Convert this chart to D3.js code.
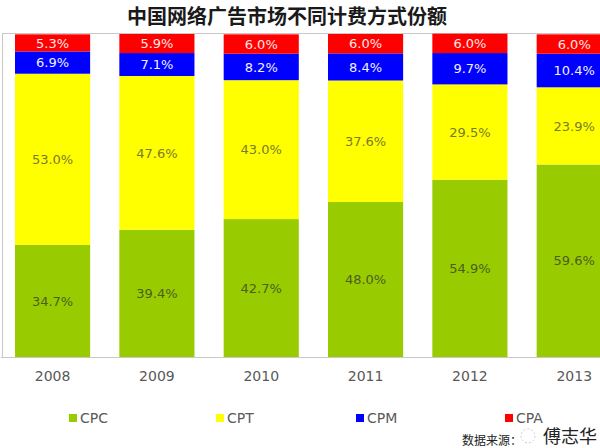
<!DOCTYPE html>
<html><head><meta charset="utf-8">
<script src="https://cdn.jsdelivr.net/npm/d3@7"></script>
<style>body{margin:0;background:#fff;}svg{display:block;}</style>
</head><body>
<script>
const years = ["2008","2009","2010","2011","2012","2013"];
const seriesNames = ["CPC","CPT","CPM","CPA"];
const CPC = [34.7, 39.4, 42.7, 48.0, 54.9, 59.6];
const CPT = [53.0, 47.6, 43.0, 37.6, 29.5, 23.9];
const CPM = [6.9, 7.1, 8.2, 8.4, 9.7, 10.4];
const CPA = [5.3, 5.9, 6.0, 6.0, 6.0, 6.0];
const title = "中国网络广告市场不同计费方式份额";

const colors = {CPC:"#99cc00", CPT:"#ffff00", CPM:"#0000ff", CPA:"#ff0000"};
const labelColors = {CPC:"#4b5e1e", CPT:"#7a7a28", CPM:"#f0f0ff", CPA:"#ffe8e8"};

const W = 600, H = 448;
const svg = d3.select("body").append("svg").attr("width", W).attr("height", H)
  .style("font-family", "'DejaVu Sans', sans-serif");

const rows = years.map((y, i) => ({year: y, CPC: CPC[i], CPT: CPT[i], CPM: CPM[i], CPA: CPA[i]}));
const stack = d3.stack().keys(seriesNames)(rows);

const x = d3.scaleBand().domain(years).range([0.4, 626.4]).paddingInner(0.28).paddingOuter(0.14);
const y = d3.scaleLinear().domain([0, 100]).range([357, 34]);

// plot frame
svg.append("line").attr("x1", 2).attr("x2", W).attr("y1", 33.5).attr("y2", 33.5).attr("stroke", "#c8c8c8");
svg.append("line").attr("x1", 2.5).attr("x2", 2.5).attr("y1", 33.5).attr("y2", 357.5).attr("stroke", "#c8c8c8");

// bars
const g = svg.append("g");
stack.forEach(layer => {
  const key = layer.key;
  g.selectAll(null).data(layer).enter().append("rect")
    .attr("x", d => x(d.data.year))
    .attr("width", x.bandwidth())
    .attr("y", d => y(d[1]))
    .attr("height", d => y(d[0]) - y(d[1]))
    .attr("fill", colors[key]);
  g.selectAll(null).data(layer).enter().append("text")
    .attr("x", d => x(d.data.year) + x.bandwidth() / 2)
    .attr("y", d => (y(d[0]) + y(d[1])) / 2)
    .attr("dy", "0.36em")
    .attr("text-anchor", "middle")
    .attr("font-size", 13)
    .attr("fill", labelColors[key])
    .text(d => d.data[key].toFixed(1) + "%");
});

// x axis
const xAxis = svg.append("g").attr("transform", "translate(0,357)")
  .call(d3.axisBottom(x).tickSize(0).tickPadding(14));
xAxis.select(".domain").attr("stroke", "#c8c8c8");
xAxis.selectAll("text").attr("font-size", 14).attr("fill", "#595959")
  .style("font-family", "'DejaVu Sans', sans-serif");

// legend
const legendX = [69, 216, 356, 505];
const leg = svg.append("g");
seriesNames.forEach((k, i) => {
  leg.append("rect").attr("x", legendX[i]).attr("y", 414).attr("width", 8).attr("height", 8).attr("fill", colors[k]);
  leg.append("text").attr("x", legendX[i] + 11).attr("y", 418).attr("dy", "0.36em")
    .attr("font-size", 14).attr("fill", "#595959").text(k);
});

// title
svg.append("text").attr("x", 287).attr("y", 24).attr("text-anchor", "middle")
  .attr("font-size", 20).attr("font-weight", "bold").attr("fill", "#1a1a1a")
  .style("font-family", "'Noto Sans CJK SC', sans-serif")
  .text(title);

// source watermark
svg.append("text").attr("x", 462).attr("y", 445).attr("font-size", 12).attr("fill", "#222")
  .style("font-family", "'Noto Sans CJK SC', sans-serif").text("数据来源：");
svg.append("circle").attr("cx", 528).attr("cy", 436).attr("r", 7).attr("fill", "none").attr("stroke", "#ccc").attr("stroke-dasharray", "2,2");
svg.append("text").attr("x", 543).attr("y", 443).attr("font-size", 18).attr("fill", "#222")
  .style("font-family", "'Noto Sans CJK SC', sans-serif").text("傅志华");
</script>
</body></html>
